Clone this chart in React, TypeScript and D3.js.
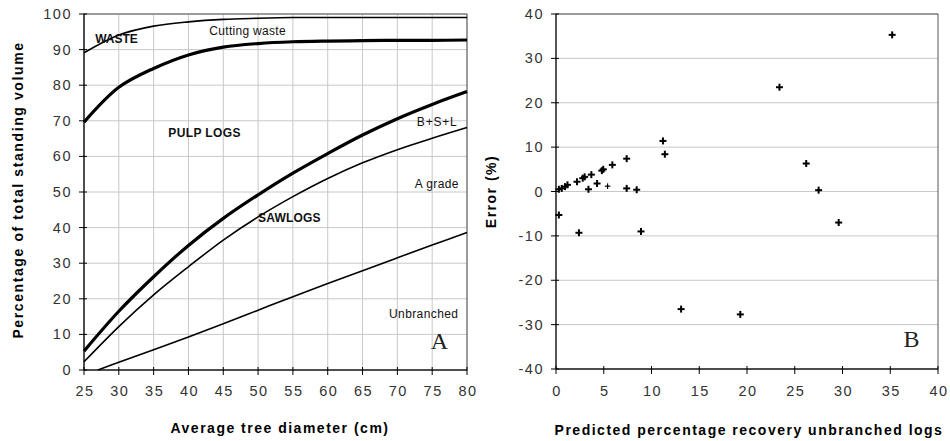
import React from 'react';
import * as d3 from 'd3';

// Panel A: volume recovery curves by average tree diameter
const diameters = [25, 30, 35, 40, 45, 50, 55, 60, 65, 70, 75, 80];
const cuttingWaste = [89.1, 94.1, 96.6, 97.8, 98.5, 98.8, 99.0, 99.0, 99.0, 99.0, 99.0, 99.0];
const pulpLogs = [69.6, 79.4, 84.7, 88.5, 90.7, 91.7, 92.2, 92.4, 92.5, 92.6, 92.6, 92.7];
const bslLogs = [5.3, 16.5, 26.2, 35.0, 42.6, 49.2, 55.3, 60.8, 66.0, 70.6, 74.6, 78.2];
const aGrade = [2.3, 12.2, 21.1, 29.0, 36.5, 43.0, 48.7, 53.8, 58.2, 61.9, 65.1, 68.1];
const unbranchedDiam = [27, 30, 35, 40, 45, 50, 55, 60, 65, 70, 75, 80];
const unbranched = [0, 2.2, 5.7, 9.3, 13.0, 16.8, 20.6, 24.3, 27.9, 31.5, 35.1, 38.6];
const xTicksA = [25, 30, 35, 40, 45, 50, 55, 60, 65, 70, 75, 80];
const yTicksA = [0, 10, 20, 30, 40, 50, 60, 70, 80, 90, 100];

// Panel B: prediction error vs predicted recovery
const predicted = [35.2, 23.4, 26.2, 27.5, 11.2, 11.4, 7.4, 7.4, 8.45, 5.9, 4.95, 4.8, 3.7, 3.0, 2.8, 2.2, 1.2, 0.95, 0.6, 0.3, 3.4, 4.3, 5.4, 0.3, 2.4, 8.9, 13.1, 19.3, 29.6];
const errors = [35.3, 23.5, 6.3, 0.3, 11.4, 8.4, 7.4, 0.7, 0.4, 6.0, 5.0, 4.7, 3.8, 3.3, 3.0, 2.2, 1.5, 1.1, 0.7, 0.5, 0.5, 1.8, 1.2, -5.3, -9.3, -9.0, -26.5, -27.7, -7.0];
const xTicksB = [0, 5, 10, 15, 20, 25, 30, 35, 40];
const yTicksB = [-40, -30, -20, -10, 0, 10, 20, 30, 40];

const sans = '"Liberation Sans", Arial, sans-serif';
const serif = '"Liberation Serif", "Times New Roman", serif';
const grid = '#c8c8c8';
const tickColor = '#333';

const PanelA = () => {
  const x = d3.scaleLinear().domain([25, 80]).range([84, 467]);
  const y = d3.scaleLinear().domain([0, 100]).range([370, 14]);
  const line = (xs: number[], ys: number[]) =>
    d3.line<number>().x((_, i) => x(xs[i])).y(d => y(d)).curve(d3.curveCatmullRom.alpha(0.5))(ys) || '';

  const label = (t: string, cx: number, cy: number, bold = false, ls = 0) => (
    <text x={x(cx)} y={y(cy)} fontFamily={sans} fontSize={12} fontWeight={bold ? 'bold' : 'normal'}
      letterSpacing={ls} fill="#111">{t}</text>
  );

  return (
    <g>
      {xTicksA.map(t => (
        <line key={'gx' + t} x1={x(t)} x2={x(t)} y1={y(0)} y2={y(100)} stroke={grid} />
      ))}
      {yTicksA.map(t => (
        <line key={'gy' + t} x1={x(25)} x2={x(80)} y1={y(t)} y2={y(t)} stroke={grid} />
      ))}
      <rect x={x(25)} y={y(100)} width={x(80) - x(25)} height={y(0) - y(100)} fill="none" stroke="#555" />
      <line x1={x(25)} x2={x(25)} y1={y(0)} y2={y(100)} stroke="#000" />
      <line x1={x(25)} x2={x(80)} y1={y(0)} y2={y(0)} stroke="#000" />
      {yTicksA.map(t => (
        <g key={'ty' + t}>
          <line x1={x(25) - 5} x2={x(25) + 3} y1={y(t)} y2={y(t)} stroke="#000" />
          <text x={x(25) - 12} y={y(t) + 5} textAnchor="end" fontFamily={sans} fontSize={14.5}
            letterSpacing={1.5} fill={tickColor}>{t}</text>
        </g>
      ))}
      {xTicksA.map(t => (
        <g key={'tx' + t}>
          <line x1={x(t)} x2={x(t)} y1={y(0) - 3} y2={y(0) + 5} stroke="#000" />
          <text x={x(t) + 1} y={y(0) + 26} textAnchor="middle" fontFamily={sans} fontSize={14.5}
            letterSpacing={1.5} fill={tickColor}>{t}</text>
        </g>
      ))}

      <path d={line(diameters, cuttingWaste)} fill="none" stroke="#000" strokeWidth={1.6} />
      <path d={line(diameters, pulpLogs)} fill="none" stroke="#000" strokeWidth={3.2} />
      <path d={line(diameters, bslLogs)} fill="none" stroke="#000" strokeWidth={3.2} />
      <path d={line(diameters, aGrade)} fill="none" stroke="#000" strokeWidth={1.6} />
      <path d={line(unbranchedDiam, unbranched)} fill="none" stroke="#000" strokeWidth={1.6} />

      {label('WASTE', 26.6, 91.9, true)}
      {label('Cutting waste', 43, 94.1, false, 0.3)}
      {label('PULP LOGS', 37.1, 65.4, true, 0.4)}
      {label('SAWLOGS', 50, 41.7, true, 0.2)}
      {label('B+S+L', 72.8, 68.5, false, 0.8)}
      {label('A grade', 72.5, 51.1, false, 0.4)}
      {label('Unbranched', 68.8, 14.6, false, 0.4)}
      <text x={x(74.8)} y={y(6.0)} fontFamily={serif} fontSize={24} fill="#222">A</text>

      <text x={280} y={433} textAnchor="middle" fontFamily={sans} fontSize={14} fontWeight="bold"
        letterSpacing={1.5}>Average tree diameter (cm)</text>
      <text transform={`translate(23,${(y(0) + y(100)) / 2 - 2}) rotate(-90)`} textAnchor="middle"
        fontFamily={sans} fontSize={14} fontWeight="bold" letterSpacing={1.6}>
        Percentage of total standing volume
      </text>
    </g>
  );
};

const PanelB = () => {
  const x = d3.scaleLinear().domain([0, 40]).range([556, 938]);
  const y = d3.scaleLinear().domain([-40, 40]).range([369, 14]);
  const s = 3.5;

  return (
    <g>
      {yTicksB.map(t => (
        <line key={'gy' + t} x1={x(0)} x2={x(40)} y1={y(t)} y2={y(t)} stroke={grid} />
      ))}
      <rect x={x(0)} y={y(40)} width={x(40) - x(0)} height={y(-40) - y(40)} fill="none" stroke="#555" />
      <line x1={x(0)} x2={x(0)} y1={y(-40)} y2={y(40)} stroke="#000" />
      <line x1={x(0)} x2={x(40)} y1={y(-40)} y2={y(-40)} stroke="#000" />
      {yTicksB.map(t => (
        <g key={'ty' + t}>
          <line x1={x(0) - 5} x2={x(0) + 3} y1={y(t)} y2={y(t)} stroke="#000" />
          <text x={x(0) - 12} y={y(t) + 5} textAnchor="end" fontFamily={sans} fontSize={14.5}
            letterSpacing={1.5} fill={tickColor}>{t}</text>
        </g>
      ))}
      {xTicksB.map(t => (
        <g key={'tx' + t}>
          <line x1={x(t)} x2={x(t)} y1={y(-40) - 3} y2={y(-40) + 5} stroke="#000" />
          <text x={x(t) + 1} y={y(-40) + 27} textAnchor="middle" fontFamily={sans} fontSize={14.5}
            letterSpacing={1.5} fill={tickColor}>{t}</text>
        </g>
      ))}

      {predicted.map((p, i) => {
        const cx = x(p), cy = y(errors[i]);
        const small = i === 22;
        const r = small ? 2.8 : s;
        return (
          <g key={'pt' + i} stroke="#000" strokeWidth={small ? 1.2 : 2}>
            <line x1={cx - r} x2={cx + r} y1={cy} y2={cy} />
            <line x1={cx} x2={cx} y1={cy - r} y2={cy + r} />
          </g>
        );
      })}

      <text x={x(36.4)} y={y(-35)} fontFamily={serif} fontSize={24} fill="#222">B</text>

      <text x={749} y={435} textAnchor="middle" fontFamily={sans} fontSize={14} fontWeight="bold"
        letterSpacing={1.5}>Predicted percentage recovery unbranched logs</text>
      <text transform={`translate(496,${(y(-40) + y(40)) / 2}) rotate(-90)`} textAnchor="middle"
        fontFamily={sans} fontSize={14} fontWeight="bold" letterSpacing={1.5}>
        Error (%)
      </text>
    </g>
  );
};

const App = () => (
  <svg width={950} height={441} style={{ position: 'absolute', left: 0, top: 0, background: '#fff' }}>
    <rect width={950} height={441} fill="#fff" />
    <PanelA />
    <PanelB />
  </svg>
);

export default App;
